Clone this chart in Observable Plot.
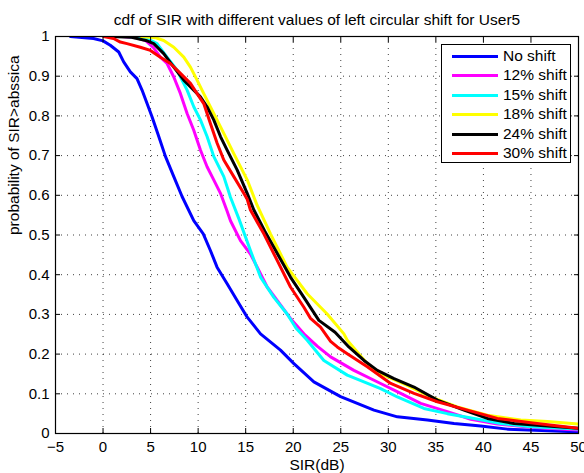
<!DOCTYPE html>
<html>
<head>
<meta charset="utf-8">
<script src="https://cdn.jsdelivr.net/npm/d3@7"></script>
<script src="https://cdn.jsdelivr.net/npm/@observablehq/plot@0.6"></script>
<style>
  body { margin: 0; background: #fff; }
  #wrap { position: relative; width: 584px; height: 473px; font-family: "Liberation Sans", Arial, sans-serif; }
  #legend { position: absolute; left: 441px; top: 44px; width: 130px; height: 119px; border: 1px solid #000; background: #fff; box-sizing: border-box; }
  .row { position: absolute; left: 0; height: 20px; }
  .sw { position: absolute; left: 10px; top: 9px; width: 46px; height: 3px; }
  .lb { position: absolute; left: 61px; top: 0; font-size: 15.5px; line-height: 20px; white-space: nowrap; color: #000; }
</style>
</head>
<body>
<div id="wrap"><div id="legend"></div></div>
<script>
// ---- data ----
const titleText = "cdf of SIR with different values of left circular shift for User5";
const xLabel = "SIR(dB)";
const yLabel = "probability of SIR>abssica";
const xTicks = [-5, 0, 5, 10, 15, 20, 25, 30, 35, 40, 45, 50];
const yTicks = [0, 0.1, 0.2, 0.3, 0.4, 0.5, 0.6, 0.7, 0.8, 0.9, 1];
const yTickLabels = ["0", "0.1", "0.2", "0.3", "0.4", "0.5", "0.6", "0.7", "0.8", "0.9", "1"];

const seriesNames = ["No shift", "12% shift", "15% shift", "18% shift", "24% shift", "30% shift"];
const seriesColors = ["#0000ff", "#ff00ff", "#00ffff", "#ffff00", "#000000", "#ff0000"];

const noShiftX = [-3.44, -1, 0, 0.76, 1.65, 2.17, 2.87, 3.57, 4.1, 4.63, 5.15, 5.86, 6.56, 7.44, 8.31, 9.54, 10.54, 11.29, 11.99, 13.05, 14.1, 15.16, 16.56, 18.66, 20.07, 22.17, 24.98, 28.49, 30.95, 34.11, 36.91, 39.72, 42.53, 50];
const noShiftY = [1, 0.995, 0.989, 0.978, 0.961, 0.936, 0.911, 0.894, 0.865, 0.831, 0.798, 0.748, 0.698, 0.647, 0.597, 0.536, 0.503, 0.461, 0.419, 0.377, 0.335, 0.293, 0.251, 0.21, 0.176, 0.13, 0.093, 0.059, 0.042, 0.034, 0.025, 0.019, 0.011, 0.004];

const shift12X = [2, 3.5, 4.45, 5.3, 6.03, 6.73, 7.44, 8.14, 8.84, 9.54, 10.24, 10.94, 11.64, 12.35, 13.05, 13.4, 14.45, 15.5, 16.21, 17.26, 18.31, 19.71, 21.12, 22.52, 23.93, 26.38, 29.19, 31.3, 33.4, 36.21, 38.67, 41.47, 44.98, 50];
const shift12Y = [1, 0.997, 0.99, 0.972, 0.948, 0.932, 0.898, 0.856, 0.806, 0.764, 0.714, 0.672, 0.639, 0.605, 0.56, 0.536, 0.486, 0.452, 0.419, 0.369, 0.335, 0.29, 0.251, 0.22, 0.193, 0.159, 0.126, 0.101, 0.076, 0.055, 0.036, 0.024, 0.016, 0.009];

const shift15X = [2.5, 4, 5, 5.68, 6.73, 7.79, 8.84, 9.54, 10.24, 10.94, 11.64, 12.7, 13.4, 14.3, 15.5, 16.56, 17.96, 19.36, 20.3, 21.47, 23.22, 25.68, 29.19, 30.95, 33.75, 36.21, 39.02, 41.82, 44.98, 50];
const shift15Y = [1, 0.997, 0.99, 0.982, 0.948, 0.915, 0.865, 0.823, 0.79, 0.748, 0.698, 0.647, 0.595, 0.54, 0.461, 0.394, 0.343, 0.301, 0.265, 0.235, 0.184, 0.147, 0.113, 0.092, 0.063, 0.05, 0.038, 0.025, 0.017, 0.011];

const shift18X = [4, 5.5, 6.38, 7.44, 8.49, 9.19, 9.89, 10.59, 11.64, 12.7, 13.75, 15.16, 16.2, 17.61, 19.36, 21.47, 23.57, 25.33, 25.68, 27.79, 29.19, 32, 34.46, 37.26, 40.42, 43.93, 46.74, 50];
const shift18Y = [1, 0.997, 0.99, 0.973, 0.948, 0.923, 0.89, 0.856, 0.806, 0.756, 0.705, 0.639, 0.575, 0.503, 0.419, 0.352, 0.301, 0.251, 0.235, 0.176, 0.151, 0.121, 0.092, 0.067, 0.046, 0.034, 0.03, 0.024];

const shift24X = [0.8, 3, 4.5, 5.33, 6.38, 7.44, 8.49, 9.54, 10.24, 10.94, 11.64, 12.35, 13.05, 14.1, 15.16, 15.86, 17, 17.96, 19.71, 21.12, 22.7, 24.4, 25.85, 27.44, 28.84, 30.6, 32.7, 35.16, 37.96, 40.42, 43.23, 46.74, 50];
const shift24Y = [1, 0.998, 0.99, 0.982, 0.957, 0.923, 0.89, 0.865, 0.848, 0.823, 0.79, 0.748, 0.714, 0.664, 0.605, 0.563, 0.51, 0.469, 0.394, 0.343, 0.285, 0.255, 0.218, 0.184, 0.159, 0.138, 0.117, 0.084, 0.059, 0.038, 0.025, 0.019, 0.013];

const shift30X = [0.06, 1.1, 1.82, 2.52, 3.92, 4.98, 6.03, 7.08, 8.14, 9.19, 9.89, 10.59, 11.29, 12, 12.7, 13.75, 14.8, 15.16, 15.5, 16.91, 18.31, 19.71, 21.12, 21.82, 22.87, 23.93, 24.63, 25.68, 27.79, 30.25, 32.7, 35.16, 38.32, 41.47, 44.98, 50];
const shift30Y = [1, 0.995, 0.986, 0.982, 0.973, 0.965, 0.948, 0.932, 0.907, 0.882, 0.856, 0.831, 0.781, 0.731, 0.689, 0.647, 0.605, 0.59, 0.563, 0.503, 0.436, 0.369, 0.318, 0.29, 0.268, 0.232, 0.218, 0.201, 0.168, 0.126, 0.101, 0.08, 0.059, 0.038, 0.027, 0.013];

// ---- build table ----
const seriesX = [noShiftX, shift12X, shift15X, shift18X, shift24X, shift30X];
const seriesY = [noShiftY, shift12Y, shift15Y, shift18Y, shift24Y, shift30Y];
const rows = [];
seriesNames.forEach((name, i) => {
  seriesX[i].forEach((x, j) => rows.push({series: name, x, y: seriesY[i][j]}));
});

const font = "Liberation Sans, Arial, sans-serif";
const chart = Plot.plot({
  width: 584,
  height: 473,
  marginLeft: 55,
  marginRight: 6,
  marginTop: 36,
  marginBottom: 40,
  style: {fontFamily: font, fontSize: "15px", background: "#fff", color: "#000"},
  x: {domain: [-5, 50]},
  y: {domain: [0, 1]},
  color: {domain: seriesNames, range: seriesColors},
  marks: [
    Plot.gridX(xTicks, {stroke: "#000", strokeOpacity: 0.75, strokeDasharray: "1,5"}),
    Plot.gridY(yTicks, {stroke: "#000", strokeOpacity: 0.75, strokeDasharray: "1,5"}),
    Plot.line(rows, {x: "x", y: "y", z: "series", stroke: "series", strokeWidth: 3, clip: true}),
    Plot.frame({stroke: "#000", strokeWidth: 1.2}),
    Plot.axisX(xTicks, {tickSize: 0, tickPadding: 8, label: null, fontSize: 15}),
    Plot.axisX(xTicks, {tickSize: 5, dy: -5, tickFormat: () => "", label: null}),
    Plot.axisX(xTicks, {anchor: "top", tickSize: 5, dy: 5, tickFormat: () => "", label: null}),
    Plot.axisY(yTicks, {tickSize: 0, tickPadding: 6, label: null, fontSize: 15, tickFormat: (d, i) => yTickLabels[i]}),
    Plot.axisY(yTicks, {tickSize: 5, dx: 5, tickFormat: () => "", label: null}),
    Plot.axisY(yTicks, {anchor: "right", tickSize: 5, dx: -5, tickFormat: () => "", label: null}),
    Plot.text([titleText], {frameAnchor: "top", lineAnchor: "bottom", dy: -12, fontSize: 15.5}),
    Plot.text([xLabel], {frameAnchor: "bottom", lineAnchor: "bottom", dy: 36, fontSize: 15.5}),
    Plot.text([yLabel], {frameAnchor: "left", lineAnchor: "bottom", rotate: -90, dx: -37, fontSize: 15.5})
  ]
});
document.getElementById("wrap").prepend(chart);

// legend
const legend = document.getElementById("legend");
seriesNames.forEach((name, i) => {
  const row = document.createElement("div");
  row.className = "row";
  row.style.top = (1 + i * 19.4) + "px";
  const sw = document.createElement("div");
  sw.className = "sw";
  sw.style.background = seriesColors[i];
  const lb = document.createElement("div");
  lb.className = "lb";
  lb.textContent = name;
  row.appendChild(sw);
  row.appendChild(lb);
  legend.appendChild(row);
});
</script>
</body>
</html>
